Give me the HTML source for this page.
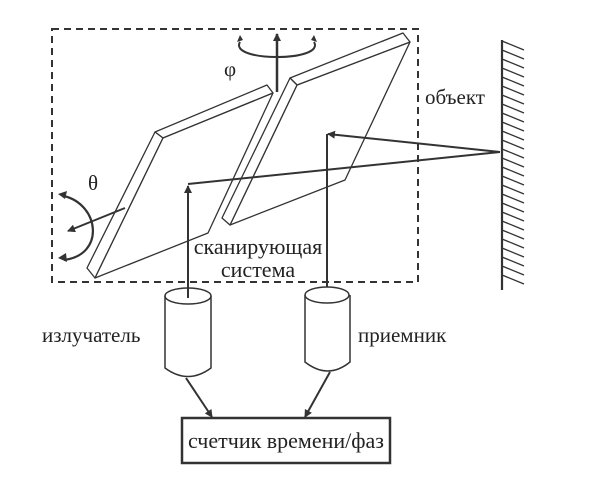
<!DOCTYPE html>
<html><head><meta charset="utf-8"><style>
html,body{margin:0;padding:0;background:#fff;}
svg{display:block;}
text{font-family:"Liberation Serif",serif;fill:#222;}
</style></head><body>
<svg width="600" height="502" viewBox="0 0 600 502" xmlns="http://www.w3.org/2000/svg">
<defs>
<marker id="a" markerWidth="8" markerHeight="8" refX="7" refY="4" orient="auto" markerUnits="userSpaceOnUse">
<path d="M0,0 L8,4 L0,8 z" fill="#333"/></marker>
</defs>
<rect x="52" y="29" width="366" height="253" fill="none" stroke="#333" stroke-width="2" stroke-dasharray="7,5"/>
<g stroke="#333" stroke-width="1.3" fill="#fff" stroke-linejoin="round">
<polygon points="155,132 267,85 273,93 163,138"/>
<polygon points="155,132 163,138 95,278 87,268"/>
<polygon points="163,138 273,93 208,233 95,278"/>
</g>
<!-- theta -->
<path d="M64,196 C100,205 105,255 64,260" fill="none" stroke="#333" stroke-width="2.2"/>
<path d="M58,194 l9,-3 l-2,8 z" fill="#333"/>
<path d="M58,258 l8,-5 l1,9 z" fill="#333"/>
<line x1="125" y1="208" x2="68" y2="231" stroke="#333" stroke-width="2" marker-end="url(#a)"/>
<text x="88" y="190" font-size="21">θ</text>
<g stroke="#333" stroke-width="1.3" fill="#fff" stroke-linejoin="round">
<polygon points="345,180 410,42 297,85 230,225"/>
<polygon points="290,78 403,33 410,42 297,85"/>
<polygon points="290,78 297,85 230,225 222,218"/>
</g>
<line x1="277" y1="92" x2="277" y2="34" stroke="#333" stroke-width="2.5" marker-end="url(#a)"/>
<path d="M240,42 C228,62 326,62 314,42" fill="none" stroke="#333" stroke-width="2"/>
<path d="M243,40 l-6,2 l3,-7 z" fill="#333"/>
<path d="M311,40 l6,2 l-3,-7 z" fill="#333"/>
<text x="224" y="76" font-size="21">φ</text>
<line x1="188" y1="295" x2="188" y2="186" stroke="#333" stroke-width="2" marker-end="url(#a)"/>
<line x1="188" y1="184" x2="500" y2="152" stroke="#333" stroke-width="2"/>
<line x1="500" y1="152" x2="328" y2="134" stroke="#333" stroke-width="2" marker-end="url(#a)"/>
<line x1="327" y1="134" x2="327" y2="302" stroke="#333" stroke-width="2" marker-end="url(#a)"/>
<line x1="502" y1="40" x2="502" y2="290" stroke="#333" stroke-width="2.2"/>
<g stroke="#333" stroke-width="1.3">
<path d="M502,41 l22,9 M502,50 l22,9 M502,59 l22,9 M502,68 l22,9 M502,77 l22,9 M502,86 l22,9 M502,95 l22,9 M502,104 l22,9 M502,113 l22,9 M502,122 l22,9 M502,131 l22,9 M502,140 l22,9 M502,149 l22,9 M502,158 l22,9 M502,167 l22,9 M502,176 l22,9 M502,185 l22,9 M502,194 l22,9 M502,203 l22,9 M502,212 l22,9 M502,221 l22,9 M502,230 l22,9 M502,239 l22,9 M502,248 l22,9 M502,257 l22,9 M502,266 l22,9 M502,275 l22,9"/>
</g>
<text x="425" y="104" font-size="21">объект</text>
<g stroke="#333" stroke-width="1.5" fill="#fff">
<path d="M165,296 L165,368 Q188,385 211,368 L211,296"/>
<ellipse cx="188" cy="296" rx="23" ry="8"/>
<path d="M305,295 L305,362 Q328,380 350,362 L350,295"/>
<ellipse cx="327" cy="295" rx="22" ry="8"/>
</g>
<line x1="188" y1="284" x2="188" y2="298" stroke="#333" stroke-width="2"/>
<line x1="186" y1="378" x2="212" y2="417" stroke="#333" stroke-width="2" marker-end="url(#a)"/>
<line x1="330" y1="372" x2="305" y2="417" stroke="#333" stroke-width="2" marker-end="url(#a)"/>
<rect x="182" y="418" width="208" height="45" fill="#fff" stroke="#333" stroke-width="2.5"/>
<text x="286" y="448" font-size="22" text-anchor="middle">счетчик времени/фаз</text>
<text x="42" y="342" font-size="21">излучатель</text>
<text x="358" y="342" font-size="21">приемник</text>
<text x="258" y="254" font-size="22" text-anchor="middle">сканирующая</text>
<text x="258" y="277" font-size="22" text-anchor="middle">система</text>
</svg>
</body></html>
